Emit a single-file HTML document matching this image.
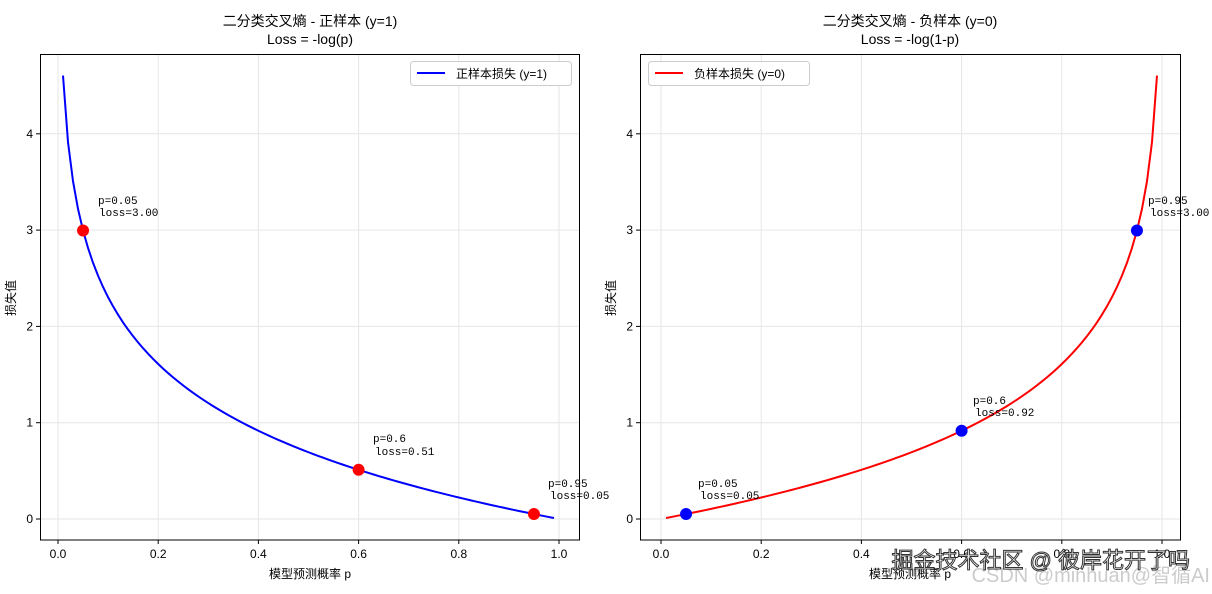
<!DOCTYPE html>
<html><head><meta charset="utf-8"><style>
body{margin:0;background:#fff;}
svg{display:block;font-family:"Liberation Sans","Noto Sans CJK SC",sans-serif;}
.t{font-size:12px;fill:#000}
.a{font-size:11px;fill:#000;font-family:"Liberation Mono","Noto Sans CJK SC",monospace}
.ti{font-size:14px;fill:#000;text-anchor:middle}
.g{stroke:#e6e6e6;stroke-width:1}
</style></head><body>
<svg id="s" width="1212" height="594" viewBox="0 0 1212 594">
<rect width="1212" height="594" fill="#fff"/>
<g id="L"></g><g id="R"></g>
<text class="ti" x="310" y="26">二分类交叉熵 - 正样本 (y=1)</text>
<text class="ti" x="310" y="44">Loss = -log(p)</text>
<text class="ti" x="910" y="26">二分类交叉熵 - 负样本 (y=0)</text>
<text class="ti" x="910" y="44">Loss = -log(1-p)</text>
<text class="t" x="310" y="578" text-anchor="middle">模型预测概率 p</text>
<text class="t" x="910" y="578" text-anchor="middle">模型预测概率 p</text>
<text class="t" transform="translate(15,298) rotate(-90)" text-anchor="middle">损失值</text>
<text class="t" transform="translate(615,298) rotate(-90)" text-anchor="middle">损失值</text>
<text class="a" x="98" y="204">p=0.05</text><text class="a" x="99" y="216">loss=3.00</text>
<text class="a" x="373" y="442">p=0.6</text><text class="a" x="375" y="455">loss=0.51</text>
<text class="a" x="548" y="487">p=0.95</text><text class="a" x="550" y="499">loss=0.05</text>
<text class="a" x="698" y="487">p=0.05</text><text class="a" x="700" y="499">loss=0.05</text>
<text class="a" x="973" y="404">p=0.6</text><text class="a" x="975" y="416">loss=0.92</text>
<text class="a" x="1148" y="204">p=0.95</text><text class="a" x="1150" y="216">loss=3.00</text>
<rect x="410.5" y="61.5" width="161" height="24" rx="3" fill="#fff" stroke="#ccc"/>
<line x1="417" y1="73" x2="445" y2="73" stroke="#0000ff" stroke-width="2"/>
<text class="t" x="456" y="78">正样本损失 (y=1)</text>
<rect x="648.5" y="61.5" width="161" height="24" rx="3" fill="#fff" stroke="#ccc"/>
<line x1="655" y1="73" x2="683" y2="73" stroke="#ff0000" stroke-width="2"/>
<text class="t" x="694" y="78">负样本损失 (y=0)</text>
<text x="1210" y="582" text-anchor="end" style="font-size:20px;fill:#ccc">CSDN @minhuan@智循AI</text>
<text x="1190" y="568" text-anchor="end" style="font-size:22px;fill:#fff;stroke:#333;stroke-width:1">掘金技术社区 @ 彼岸花开了吗</text>
</svg>
<script>
var NS="http://www.w3.org/2000/svg";
function el(p,t,a){var e=document.createElementNS(NS,t);for(var k in a)e.setAttribute(k,a[k]);p.appendChild(e);return e;}
function Y(v){return 519-v*96.3;}
function panel(id,x0,x1,ox,col,mcol,f){
 var g=document.getElementById(id);
 var X=function(p){return ox+p*501;};
 for(var i=0;i<=5;i++){var x=X(i*0.2);el(g,"line",{x1:x,x2:x,y1:54,y2:540,class:"g"});
  el(g,"line",{x1:x,x2:x,y1:540,y2:544,stroke:"#000"});
  var t=el(g,"text",{x:x,y:558,class:"t","text-anchor":"middle"});t.textContent=(i*0.2).toFixed(1);}
 for(var j=0;j<=4;j++){var y=Y(j);el(g,"line",{x1:x0,x2:x1,y1:y,y2:y,class:"g"});
  el(g,"line",{x1:x0-4,x2:x0,y1:y,y2:y,stroke:"#000"});
  var t2=el(g,"text",{x:x0-7,y:y+4,class:"t","text-anchor":"end"});t2.textContent=j;}
 var d="";for(var k=0;k<=98;k++){var p=0.01+k*0.01;d+=(k?"L":"M")+X(p).toFixed(2)+","+Y(f(p)).toFixed(2);}
 el(g,"path",{d:d,fill:"none",stroke:col,"stroke-width":2});
 [0.05,0.6,0.95].forEach(function(p){el(g,"circle",{cx:X(p),cy:Y(f(p)),r:6,fill:mcol});});
 el(g,"rect",{x:x0+0.5,y:54.5,width:x1-x0-1,height:485.5,fill:"none",stroke:"#000"});
}
panel("L",40,580,58,"#0000ff","#ff0000",function(p){return -Math.log(p);});
panel("R",640,1181,661,"#ff0000","#0000ff",function(p){return -Math.log(1-p);});
</script>
</body></html>
